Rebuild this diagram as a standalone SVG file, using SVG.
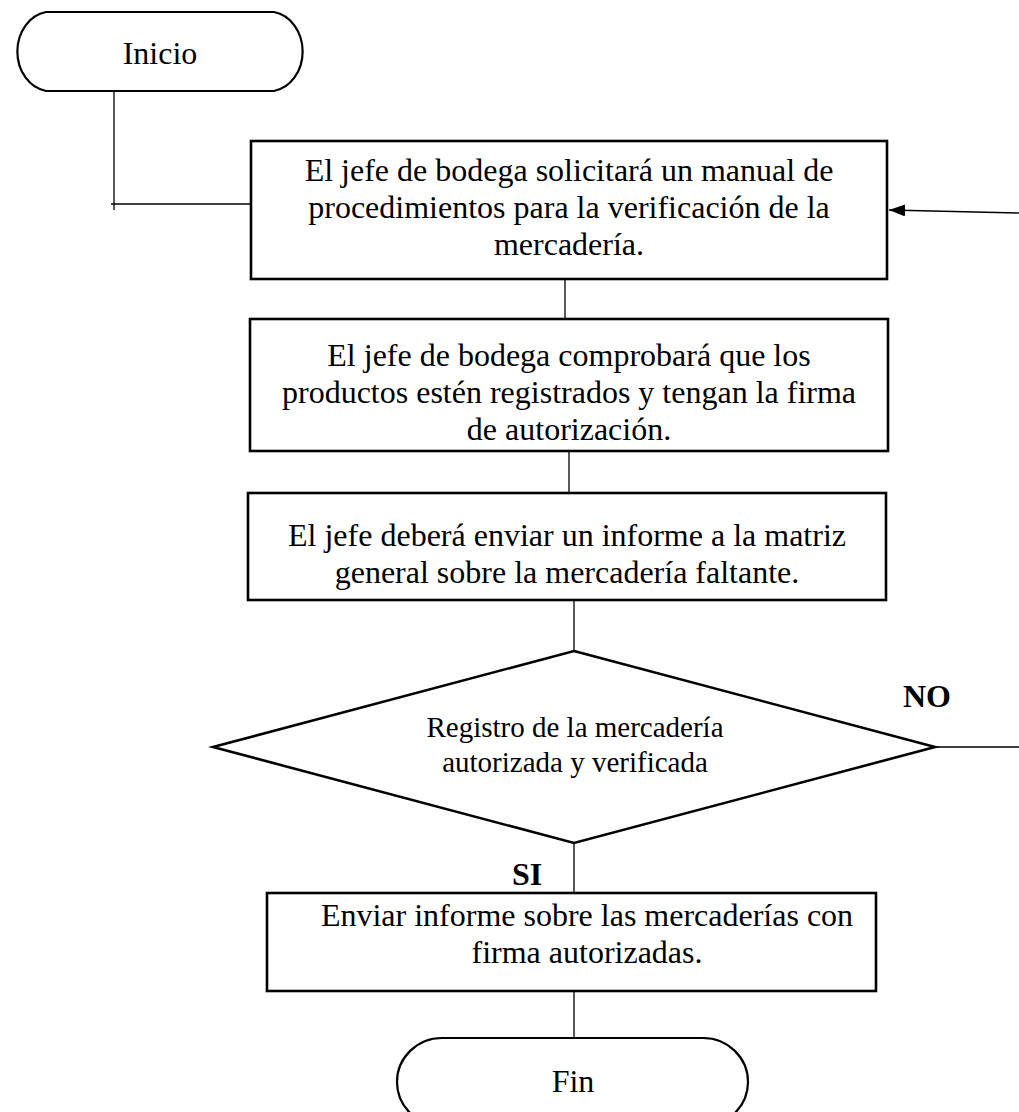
<svg xmlns="http://www.w3.org/2000/svg" width="1019" height="1112" viewBox="0 0 1019 1112">
<style>
  .box { fill: #fff; stroke: #000; stroke-width: 2.6; }
  .term { fill: #fff; stroke: #000; stroke-width: 2.2; }
  .t { font-family: "Liberation Serif", "Times New Roman", serif; font-size: 32px; fill: #000; text-anchor: middle; }
  .td { font-family: "Liberation Serif", "Times New Roman", serif; font-size: 29px; fill: #000; text-anchor: middle; }
  .lbl { font-family: "Liberation Serif", "Times New Roman", serif; font-size: 32px; font-weight: bold; fill: #000; text-anchor: middle; }
  .c { fill: none; stroke: #000; stroke-width: 1.3; }
</style>
<defs>
  <marker id="arrow" markerWidth="16" markerHeight="12" refX="16" refY="6" orient="auto" markerUnits="userSpaceOnUse">
    <path d="M0,0 L16,6 L0,12 Z" fill="#000"/>
  </marker>
</defs>
<rect width="1019" height="1112" fill="#fff"/>

<g id="connectors">
  <polyline class="c" points="114,91 114,210"/>
  <polyline class="c" points="111,204 251,204"/>
  <line class="c" x1="565" y1="279" x2="565" y2="319"/>
  <line class="c" x1="569" y1="451" x2="569" y2="493"/>
  <line class="c" x1="574" y1="600" x2="574" y2="651"/>
  <line class="c" x1="574" y1="843" x2="574" y2="893"/>
  <line class="c" x1="574" y1="991" x2="574" y2="1038"/>
  <line class="c" x1="935" y1="747" x2="1019" y2="747"/>
  <line class="c" x1="1019" y1="213" x2="889" y2="210" marker-end="url(#arrow)"/>
</g>

<g id="inicio">
  <path class="term" d="M46,12 L274,12 A34,40 0 0 1 274,91 L46,91 A34,40 0 0 1 46,12 Z"/>
  <text class="t" x="160" y="64">Inicio</text>
</g>

<g id="paso1">
  <rect class="box" x="251" y="141" width="636" height="138"/>
  <text class="t" x="569" y="181">El jefe de bodega solicitará un manual de</text>
  <text class="t" x="569" y="218">procedimientos para la verificación de la</text>
  <text class="t" x="569" y="255">mercadería.</text>
</g>

<g id="paso2">
  <rect class="box" x="250" y="319" width="638" height="132"/>
  <text class="t" x="569" y="366">El jefe de bodega comprobará que los</text>
  <text class="t" x="569" y="403">productos estén registrados y tengan la firma</text>
  <text class="t" x="569" y="440">de autorización.</text>
</g>

<g id="paso3">
  <rect class="box" x="248" y="493" width="638" height="107"/>
  <text class="t" x="567" y="546">El jefe deberá enviar un informe a la matriz</text>
  <text class="t" x="567" y="583">general sobre la mercadería faltante.</text>
</g>

<g id="decision">
  <polygon class="box" points="574,651 935,747 574,843 213,747"/>
  <text class="td" x="575" y="737">Registro de la mercadería</text>
  <text class="td" x="575" y="772">autorizada y verificada</text>
</g>

<text class="lbl" x="927" y="707">NO</text>
<text class="lbl" x="527" y="885">SI</text>

<g id="paso4">
  <rect class="box" x="267" y="893" width="609" height="98"/>
  <text class="t" x="587" y="926">Enviar informe sobre las mercaderías con</text>
  <text class="t" x="587" y="963">firma autorizadas.</text>
</g>

<g id="fin">
  <path class="term" d="M442,1038 L703,1038 A45,44 0 0 1 703,1126 L442,1126 A45,44 0 0 1 442,1038 Z"/>
  <text class="t" x="573" y="1092">Fin</text>
</g>
</svg>
